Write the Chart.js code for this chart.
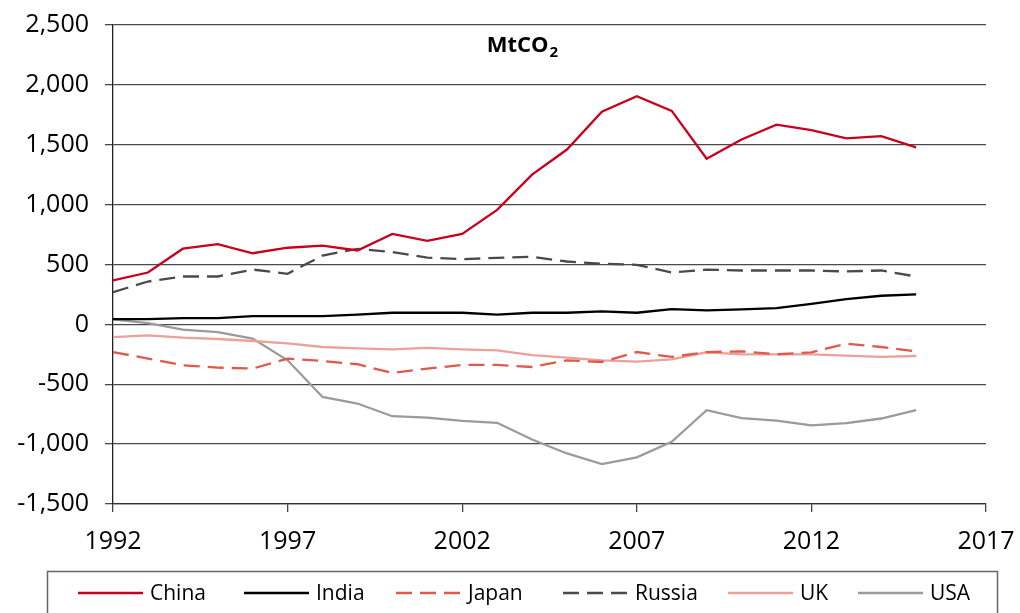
<!DOCTYPE html>
<html>
<head>
<meta charset="utf-8">
<script src="https://cdn.jsdelivr.net/npm/chart.js@4"></script>
<style>
  html, body { margin: 0; padding: 0; background: #fff; }
  #wrap { width: 1020px; height: 613px; }
</style>
</head>
<body>
<div id="wrap"><canvas id="myChart" width="1020" height="613"></canvas></div>
<script>
// years on the x axis
const years = [1992, 1993, 1994, 1995, 1996, 1997, 1998, 1999, 2000, 2001, 2002, 2003,
               2004, 2005, 2006, 2007, 2008, 2009, 2010, 2011, 2012, 2013, 2014, 2015];

// MtCO2 per country
const china = [367, 433, 632, 670, 594, 640, 658, 617, 756, 698, 756, 956,
               1250, 1460, 1775, 1906, 1783, 1383, 1544, 1668, 1622, 1553, 1572, 1478];
const india = [44, 44, 53, 53, 69, 69, 69, 81, 97, 97, 97, 81,
               97, 97, 108, 97, 128, 117, 125, 136, 172, 211, 239, 250];
const japan = [-231, -286, -342, -361, -369, -286, -306, -333, -406, -369, -339, -339,
               -356, -300, -314, -231, -272, -231, -225, -250, -233, -161, -189, -225];
const russia = [269, 358, 400, 400, 458, 422, 575, 631, 603, 558, 544, 556,
                564, 525, 506, 497, 433, 458, 450, 450, 450, 442, 450, 400];
const uk = [-106, -92, -111, -122, -139, -158, -189, -200, -208, -197, -208, -217,
            -256, -278, -300, -311, -292, -233, -250, -250, -250, -261, -272, -264];
const usa = [42, 11, -44, -64, -119, -300, -606, -661, -767, -778, -806, -822,
             -961, -1078, -1167, -1111, -981, -717, -783, -803, -844, -825, -786, -717];

const xTicks = [1992, 1997, 2002, 2007, 2012, 2017];
const yTicks = [-1500, -1000, -500, 0, 500, 1000, 1500, 2000, 2500];

const fontFamily = '"Open Sans", "Noto Sans", sans-serif';

function pts(values) {
    return values.map(function(v, i) { return { x: years[i], y: v }; });
}

function series(label, values, color, dash) {
    return {
        label: label,
        data: pts(values),
        borderColor: color,
        backgroundColor: color,
        borderWidth: 2.3,
        borderDash: dash || [],
        pointRadius: 0,
        fill: false,
        tension: 0
    };
}

// draws the MtCO2 title inside the plot
const titlePlugin = {
    id: 'titleText',
    afterDraw(chart) {
        const c = chart.ctx;
        c.save();
        c.fillStyle = '#000';
        c.textBaseline = 'alphabetic';
        c.font = 'bold 22px ' + fontFamily;
        const main = 'MtCO';
        const w = c.measureText(main).width;
        c.font = 'bold 15px ' + fontFamily;
        const sw = c.measureText('2').width;
        const x0 = 522 - (w + sw) / 2;
        c.font = 'bold 22px ' + fontFamily;
        c.textAlign = 'left';
        c.fillText(main, x0, 52);
        c.font = 'bold 15px ' + fontFamily;
        c.fillText('2', x0 + w + 1, 57);
        c.restore();
    }
};

// draws the boxed legend under the axis
const legendPlugin = {
    id: 'boxLegend',
    afterDraw(chart) {
        const c = chart.ctx;
        c.save();
        c.strokeStyle = '#666';
        c.lineWidth = 1.5;
        c.strokeRect(47.5, 571.5, 950, 60);
        const starts = [78, 244, 396, 563, 728, 858];
        c.font = '21px ' + fontFamily;
        c.textBaseline = 'middle';
        c.textAlign = 'left';
        chart.data.datasets.forEach(function(ds, i) {
            const x = starts[i];
            const y = 593;
            c.strokeStyle = ds.borderColor;
            c.lineWidth = 2.3;
            c.setLineDash(ds.borderDash.length ? [16, 8] : []);
            c.beginPath();
            c.moveTo(x, y);
            c.lineTo(x + 65, y);
            c.stroke();
            c.setLineDash([]);
            c.fillStyle = '#000';
            c.fillText(ds.label, x + 72, y + 1);
        });
        c.restore();
    }
};

const ctx = document.getElementById('myChart').getContext('2d');
new Chart(ctx, {
    type: 'line',
    data: {
        datasets: [
            series('China', china, '#c8001e'),
            series('India', india, '#000000'),
            series('Japan', japan, '#e0594b', [16, 8]),
            series('Russia', russia, '#4a4a4a', [16, 8]),
            series('UK', uk, '#eda19b'),
            series('USA', usa, '#9b9b9b')
        ]
    },
    plugins: [titlePlugin, legendPlugin],
    options: {
        responsive: false,
        animation: false,
        layout: { padding: { top: 25, right: 34, bottom: 64, left: 0 } },
        plugins: {
            legend: { display: false },
            tooltip: { enabled: false }
        },
        scales: {
            x: {
                type: 'linear',
                min: 1992,
                max: 2017,
                afterBuildTicks(axis) { axis.ticks = xTicks.map(function(v) { return { value: v }; }); },
                afterFit(axis) {
                    axis.height = 45;
                    axis.paddingLeft = 0;
                    axis.paddingRight = 0;
                },
                ticks: {
                    color: '#000',
                    font: { family: fontFamily, size: 25 },
                    padding: 15,
                    maxRotation: 0,
                    callback: function(v) { return String(v); }
                },
                grid: {
                    drawOnChartArea: false,
                    drawTicks: true,
                    tickLength: 8,
                    color: '#444',
                    lineWidth: 1.3
                },
                border: { color: '#333', width: 1.3 }
            },
            y: {
                min: -1500,
                max: 2500,
                afterBuildTicks(axis) { axis.ticks = yTicks.map(function(v) { return { value: v }; }); },
                afterFit(axis) {
                    axis.width = 113;
                    axis.paddingTop = 0;
                    axis.paddingBottom = 0;
                },
                ticks: {
                    color: '#000',
                    font: { family: fontFamily, size: 25 },
                    padding: 16,
                    callback: function(v) { return v.toLocaleString('en-US'); }
                },
                grid: {
                    drawTicks: true,
                    tickLength: 8,
                    color: '#4a4a4a',
                    lineWidth: 1.3
                },
                border: { color: '#222', width: 1.3 }
            }
        }
    }
});
</script>
</body>
</html>
